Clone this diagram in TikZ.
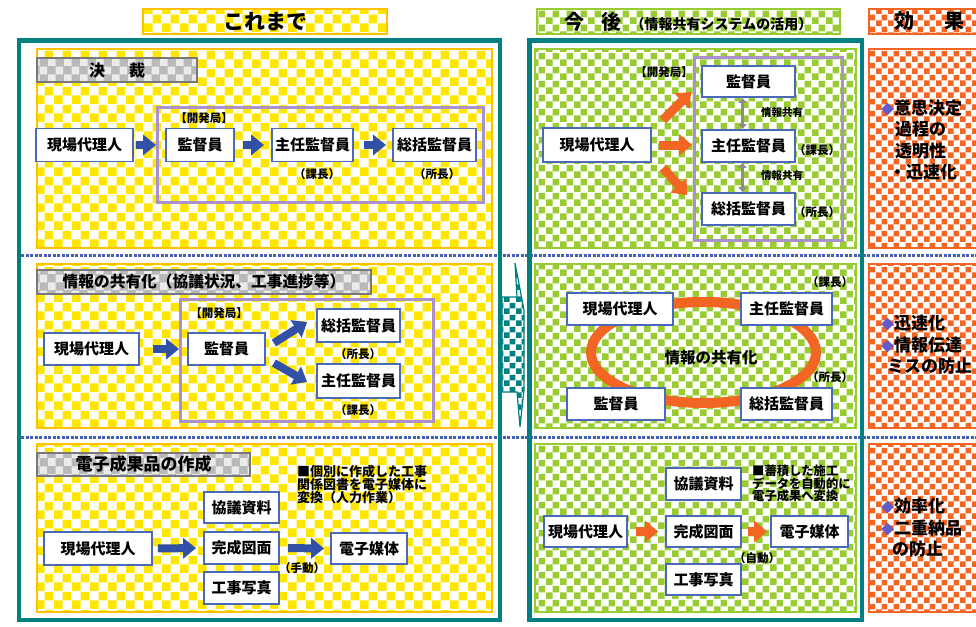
\documentclass[tikz,border=0pt]{standalone}
\usepackage{fontspec}
\setmainfont{Noto Sans CJK JP}
\usetikzlibrary{arrows.meta,patterns.meta,calc}
\newcommand\myfs[1]{\fontsize{#1}{#1}\selectfont}
\definecolor{tealc}{RGB}{0,128,128}
\definecolor{ychk}{RGB}{255,230,0}
\definecolor{ybrd}{RGB}{255,192,0}
\definecolor{gchk}{RGB}{153,204,51}
\definecolor{gbrd}{RGB}{153,204,51}
\definecolor{ochk}{RGB}{242,101,34}
\definecolor{purp}{RGB}{170,145,205}
\definecolor{bxblue}{RGB}{75,105,185}
\definecolor{arblue}{RGB}{50,80,165}
\definecolor{arora}{RGB}{242,101,34}
\definecolor{argray}{RGB}{140,140,140}
\definecolor{sepblue}{RGB}{70,95,185}
\definecolor{diac}{RGB}{100,90,200}
\definecolor{labg}{RGB}{185,185,185}
\definecolor{labbrd}{RGB}{120,120,120}
\tikzdeclarepattern{name=chkY,type=uncolored,bounding box={(0pt,0pt) and (18pt,18pt)},tile size={(18pt,18pt)},code={\fill (0pt,0pt) rectangle (9pt,9pt); \fill (9pt,9pt) rectangle (18pt,18pt);}}
\tikzdeclarepattern{name=chkG,type=uncolored,bounding box={(0pt,0pt) and (14pt,14pt)},tile size={(14pt,14pt)},code={\fill (0pt,0pt) rectangle (7pt,7pt); \fill (7pt,7pt) rectangle (14pt,14pt);}}
\tikzdeclarepattern{name=chkO,type=uncolored,bounding box={(0pt,0pt) and (12pt,12pt)},tile size={(12pt,12pt)},code={\fill (0pt,0pt) rectangle (6pt,6pt); \fill (6pt,6pt) rectangle (12pt,12pt);}}
\tikzdeclarepattern{name=chkL,type=uncolored,bounding box={(0pt,0pt) and (16pt,16pt)},tile size={(16pt,16pt)},code={\fill (0pt,0pt) rectangle (8pt,8pt); \fill (8pt,8pt) rectangle (16pt,16pt);}}
\newcommand\dia{{\color{diac}\fontsize{13}{21.5}\selectfont ◆}}
\begin{document}
\begin{tikzpicture}[x=1pt,y=-1pt,inner sep=0pt,
 reg/.style n args={3}{fill=white, postaction={pattern=#1, pattern color=#2}, postaction={draw=#3, line width=1.8pt}},
 box/.style={draw=bxblue, line width=1.8pt, fill=white, minimum height=33pt, font=\bfseries\myfs{15}},
 lab/.style={fill=labg, postaction={pattern=chkL, pattern color=white!70!labg}, postaction={draw=labbrd, line width=2.2pt}, font=\bfseries\myfs{16}},
 sm/.style={font=\bfseries\myfs{11.5}},
 tinyl/.style={font=\bfseries\myfs{10.5}},
 mid/.style={font=\bfseries\myfs{15.5}},
 note/.style={font=\bfseries\fontsize{13}{12.8}\selectfont, align=left},
 notetwo/.style={font=\bfseries\fontsize{12.3}{12.6}\selectfont, align=left},
 eff/.style={font=\bfseries\fontsize{17}{21.5}\selectfont, align=left},
 barrow/.style={draw=arblue, line width=8pt, -{Triangle[length=13pt,width=20pt]}},
 oarrow/.style={draw=arora, line width=9pt, -{Triangle[length=13pt,width=21pt]}},
 garrow/.style={draw=argray, line width=3pt, {Triangle[length=5pt,width=8pt]}-{Triangle[length=5pt,width=8pt]}},
 sep/.style={draw=sepblue, line width=3pt, dash pattern=on 3pt off 1.5pt},
 purpbox/.style={draw=purp, line width=3pt}]
\useasboundingbox (0,0) rectangle (976,626);
\clip (0,0) rectangle (976,626);

% headers
\node[reg={chkY}{ychk}{ybrd}, minimum width=244pt, minimum height=25pt, font=\bfseries\myfs{21}] (h1) at (265,21.5) {これまで};
\node[reg={chkG}{gchk}{gbrd}, minimum width=303pt, minimum height=25pt, font=\bfseries\myfs{20}] (h2) at (688.5,21.5) {今\hspace{17pt}後\hspace{9pt}{\myfs{14}（情報共有システムの活用）}};
\node[reg={chkO}{ochk}{ochk}, minimum width=120pt, minimum height=25pt, font=\bfseries\myfs{20}, anchor=west] (h3) at (869,21.5) {効\hspace{30pt}果};

% regions
\path[reg={chkY}{ychk}{ybrd}] (37,49) rectangle (492,248);
\path[reg={chkY}{ychk}{ybrd}] (37,264) rectangle (492,428);
\path[reg={chkY}{ychk}{ybrd}] (37,444) rectangle (492,612);
\path[reg={chkG}{gchk}{gbrd}] (535,49) rectangle (856,248);
\path[reg={chkG}{gchk}{gbrd}] (535,264) rectangle (856,428);
\path[reg={chkG}{gchk}{gbrd}] (535,444) rectangle (856,612);
\path[reg={chkO}{ochk}{ochk}] (869,49) rectangle (990,248);
\path[reg={chkO}{ochk}{ochk}] (869,264) rectangle (990,428);
\path[reg={chkO}{ochk}{ochk}] (869,444) rectangle (990,612);

% separators
\draw[sep] (21,255.5) -- (976,255.5);
\draw[sep] (21,437) -- (976,437);

% teal arrow between frames
\path[fill=white, postaction={pattern=chkO, pattern color=tealc}, postaction={draw=tealc, line width=1.2pt}]
 (502,297) -- (517,297) -- (515,263) -- (524,310) -- (524,390) -- (520,427) -- (517,392) -- (502,392) -- cycle;

% frames
\draw[tealc, line width=4.5pt] (19,40.5) rectangle (500,620);
\draw[tealc, line width=4.5pt] (529.5,40.5) rectangle (862,620);

% purple boxes
\draw[purpbox] (157,107) rectangle (483,202);
\draw[purpbox] (180,299) rectangle (433,421);
\draw[purpbox] (694,58) rectangle (842,240);

% gray labels
\node[lab, minimum width=160pt, minimum height=24pt] (lab1) at (117,70) {決\hspace{24pt}裁};
\node[lab, minimum width=334pt, minimum height=24pt, font=\bfseries\myfs{15.7}] (lab2) at (204,282) {情報の共有化（協議状況、工事進捗等）};
\node[lab, minimum width=213pt, minimum height=23pt, font=\bfseries\myfs{17}] (lab3) at (143.5,464.5) {電子成果品の作成};

% ---- left row 1
\node[box, minimum width=97pt] (L1a) at (84.5,145) {現場代理人};
\node[box, minimum width=68pt] (L1b) at (200,145) {監督員};
\node[box, minimum width=81pt] (L1c) at (312.5,145) {主任監督員};
\node[box, minimum width=83pt] (L1d) at (434.5,145) {総括監督員};
\node[sm] (k1) at (204,118) {【開発局】};
\node[sm] (k1a) at (317,174) {（課長）};
\node[sm] (k1b) at (437,174) {（所長）};
\draw[barrow, shorten <=2pt, shorten >=9pt] (L1a.east) -- (L1b.west);
\draw[barrow, shorten <=8pt, shorten >=7pt] (L1b.east) -- (L1c.west);
\draw[barrow, shorten <=10pt, shorten >=6pt] (L1c.east) -- (L1d.west);

% ---- left row 2
\node[box, minimum width=95pt, minimum height=32pt] (L2a) at (91.5,349) {現場代理人};
\node[box, minimum width=77pt, minimum height=32pt] (L2b) at (226.5,349) {監督員};
\node[box, minimum width=83pt] (L2c) at (358.5,325.5) {総括監督員};
\node[box, minimum width=83pt, minimum height=34pt] (L2d) at (358.5,381) {主任監督員};
\node[sm] (k2) at (219,313) {【開発局】};
\node[sm] (k2a) at (358,354) {（所長）};
\node[sm] (k2b) at (358,410) {（課長）};
\draw[barrow, shorten <=13pt, shorten >=8pt] (L2a.east) -- (L2b.west);
\draw[barrow] ($(L2b.east)+(8,-6)$) -- ($(L2c.west)+(-9,-3.5)$);
\draw[barrow] ($(L2b.east)+(8,14)$) -- ($(L2d.west)+(-9,1)$);

% ---- left row 3
\node[box, minimum width=108pt] (L3a) at (98,548.5) {現場代理人};
\node[box, minimum width=75pt, minimum height=31pt] (L3b) at (241.5,507.5) {協議資料};
\node[box, minimum width=75pt, minimum height=32pt] (L3c) at (241.5,548) {完成図面};
\node[box, minimum width=75pt, minimum height=32pt] (L3d) at (241.5,588) {工事写真};
\node[box, minimum width=76pt, minimum height=31pt] (L3e) at (369,548.5) {電子媒体};
\node[sm] (k3) at (302,568) {（手動）};
\node[note, anchor=north west] (n3) at (297,465) {■個別に作成した工事\\関係図書を電子媒体に\\変換（人力作業）};
\draw[barrow, shorten <=5pt, shorten >=7pt] (L3a.east) -- (L3c.west);
\draw[barrow, shorten <=8pt, shorten >=6pt] (L3c.east) -- (L3e.west);

% ---- right row 1
\node[box, minimum width=108pt, minimum height=34pt] (R1a) at (597,145) {現場代理人};
\node[box, minimum width=93pt, minimum height=31pt] (R1b) at (748.5,81.5) {監督員};
\node[box, minimum width=93pt, minimum height=32pt] (R1c) at (748.5,146) {主任監督員};
\node[box, minimum width=93pt, minimum height=32pt] (R1d) at (748.5,209) {総括監督員};
\node[sm] (k4) at (664,72) {【開発局】};
\node[sm] (k4a) at (817,150) {（課長）};
\node[sm] (k4b) at (817,212) {（所長）};
\node[tinyl] (s1) at (782,113) {情報共有};
\node[tinyl] (s2) at (782,176) {情報共有};
\draw[oarrow] ($(R1a.east)+(11,-25)$) -- ($(R1b.west)+(-10,10.5)$);
\draw[oarrow] ($(R1a.east)+(7,0)$) -- ($(R1c.west)+(-9,-1)$);
\draw[oarrow] ($(R1a.east)+(11,23)$) -- ($(R1d.west)+(-14,-14)$);
\draw[garrow] ($(R1b.south)+(-6,0)$) -- ($(R1c.north)+(-6,0)$);
\draw[garrow] ($(R1c.south)+(-6,0)$) -- ($(R1d.north)+(-6,0)$);

% ---- right row 2
\draw[arora, line width=10pt] (703.5,352.5) ellipse [x radius=112.5, y radius=50.5];
\node[box, minimum width=106pt, minimum height=32pt] (R2a) at (620,309) {現場代理人};
\node[box, minimum width=91pt, minimum height=32pt] (R2b) at (786.5,309) {主任監督員};
\node[box, minimum width=98pt, minimum height=32pt] (R2c) at (616,404) {監督員};
\node[box, minimum width=91pt, minimum height=32pt] (R2d) at (786.5,404) {総括監督員};
\node[mid] (c2) at (711,358) {情報の共有化};
\node[sm] (k5a) at (830,282) {（課長）};
\node[sm] (k5b) at (830,377) {（所長）};

% ---- right row 3
\node[box, minimum width=83pt, minimum height=31pt] (R3a) at (585.5,531.5) {現場代理人};
\node[box, minimum width=75pt, minimum height=32pt] (R3b) at (703.5,484) {協議資料};
\node[box, minimum width=75pt, minimum height=31pt] (R3c) at (703.5,531.5) {完成図面};
\node[box, minimum width=75pt, minimum height=31pt] (R3d) at (703.5,579.5) {工事写真};
\node[box, minimum width=77pt, minimum height=31pt] (R3e) at (809.5,531.5) {電子媒体};
\node[sm] (k6) at (757,558) {（自動）};
\node[notetwo, anchor=north west] (n6) at (752,465) {■蓄積した施工\\データを自動的に\\電子成果へ変換};
\draw[oarrow, shorten <=8pt, shorten >=7pt] (R3a.east) -- (R3c.west);
\draw[oarrow, shorten <=6pt, shorten >=3pt] (R3c.east) -- (R3e.west);

% ---- effects
\node[eff, anchor=west] (e1) at (881,140) {\dia 意思決定\\\hspace{14pt}過程の\\\hspace{14pt}透明性\\\hspace{8pt}・迅速化};
\node[eff, anchor=west] (e2) at (881,345) {\dia 迅速化\\\dia 情報伝達\\\hspace{6pt}ミスの防止};
\node[eff, anchor=west] (e3) at (881,528) {\dia 効率化\\\dia 二重納品\\\hspace{11pt}の防止};
\end{tikzpicture}
\end{document}
